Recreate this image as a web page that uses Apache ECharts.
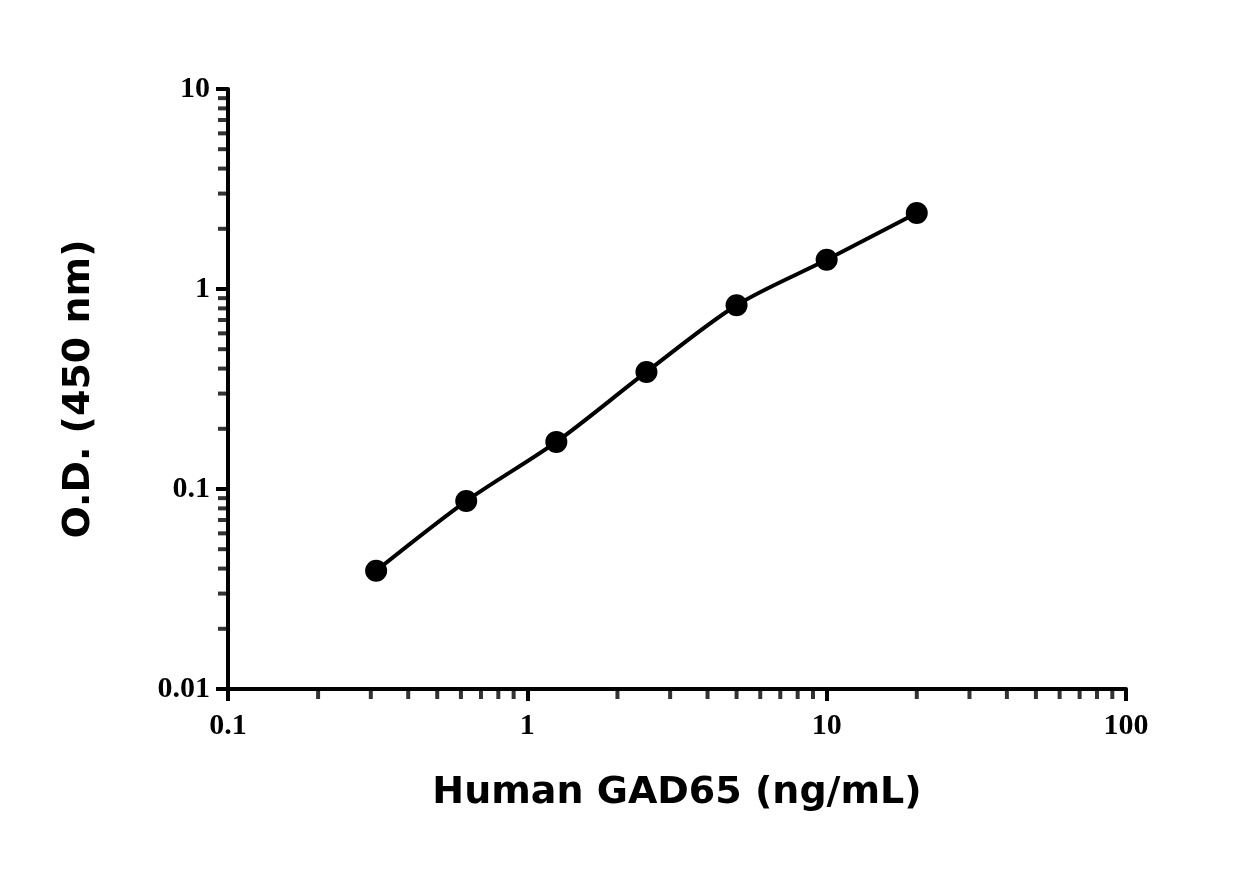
<!DOCTYPE html>
<html><head><meta charset="utf-8">
<script src="https://cdn.jsdelivr.net/npm/echarts@6/dist/echarts.min.js"></script>
<style>html,body{margin:0;background:#fff}#c{width:1251px;height:870px}</style>
</head><body><div id="c"></div>
<script>
const concentrations = [0.3125, 0.625, 1.25, 2.5, 5, 10, 20];
const odValues = [0.039, 0.087, 0.172, 0.385, 0.83, 1.40, 2.40];
const xMinorTicks = [];
[0.1, 1, 10].forEach(d => { for (let k = 2; k <= 9; k++) xMinorTicks.push(+(k * d).toPrecision(3)); });
const yMinorTicks = [];
[0.01, 0.1, 1].forEach(d => { for (let k = 2; k <= 9; k++) yMinorTicks.push(+(k * d).toPrecision(3)); });

const chart = echarts.init(document.getElementById('c'));
const tickFont = {fontFamily: 'Liberation Sans Narrow', fontWeight: 'bold', fontSize: 30, color: '#000'};
chart.setOption({
  animation: false,
  grid: {left: 228, right: 125, top: 89, bottom: 181},
  xAxis: {
    type: 'log', min: 0.1, max: 100, logBase: 10,
    name: 'Human GAD65 (ng/mL)', nameLocation: 'middle', nameGap: 85,
    nameTextStyle: {fontFamily: 'DejaVu Sans', fontWeight: 'bold', fontSize: 38, color: '#000'},
    axisLine: {lineStyle: {color: '#000', width: 4}},
    axisTick: {length: 12, lineStyle: {width: 4, color: '#000'}},
    axisLabel: Object.assign({margin: 22}, tickFont),
    splitLine: {show: false}
  },
  yAxis: {
    type: 'log', min: 0.01, max: 10, logBase: 10,
    name: 'O.D. (450 nm)', nameLocation: 'middle', nameGap: 130,
    nameTextStyle: {fontFamily: 'DejaVu Sans', fontWeight: 'bold', fontSize: 38, color: '#000'},
    axisLine: {lineStyle: {color: '#000', width: 4}},
    axisTick: {length: 12, lineStyle: {width: 4, color: '#000'}},
    axisLabel: Object.assign({margin: 18, formatter: v => String(v)}, tickFont),
    splitLine: {show: false}
  },
  series: [
    {type: 'line', data: concentrations.map((x, i) => [x, odValues[i]]), smooth: 0.3,
     symbol: 'circle', symbolSize: 22, itemStyle: {color: '#000'}, lineStyle: {color: '#000', width: 4}},
    {type: 'scatter', data: xMinorTicks.map(x => [x, 0.01]), symbol: 'rect', symbolSize: [4, 8],
     symbolOffset: [0, 6], itemStyle: {color: '#000'}, clip: false, silent: true},
    {type: 'scatter', data: yMinorTicks.map(y => [0.1, y]), symbol: 'rect', symbolSize: [8, 4],
     symbolOffset: [-6, 0], itemStyle: {color: '#000'}, clip: false, silent: true}
  ]
});
</script></body></html>
